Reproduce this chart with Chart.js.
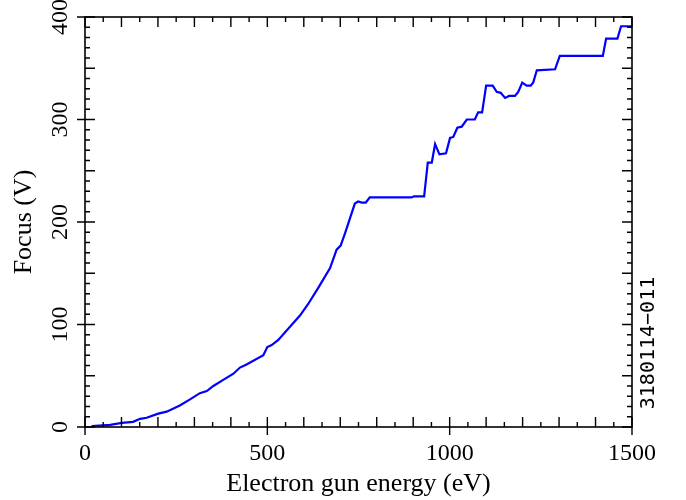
<!DOCTYPE html>
<html>
<head>
<meta charset="utf-8">
<script src="https://cdn.jsdelivr.net/npm/chart.js@4/dist/chart.umd.min.js"></script>
<style>
  html, body { margin: 0; padding: 0; background: #fff; }
  canvas { display: block; }
</style>
</head>
<body>
<canvas id="focusChart" width="686" height="500"></canvas>
<script>
// Focus voltage vs electron gun energy
const energy = [18, 69, 101, 132, 151, 169, 201, 224, 260, 288, 315, 334, 352, 379, 407, 425, 443,
    489, 500, 512, 530, 590, 612, 640, 672, 690, 701, 713, 727, 740, 749, 759, 770, 781, 896, 902,
    930, 940, 951, 960, 972, 990, 1001, 1010, 1021, 1033, 1047, 1069, 1078, 1089, 1100, 1118, 1129,
    1140, 1152, 1163, 1179, 1188, 1199, 1211, 1222, 1229, 1239, 1289, 1302, 1420, 1429, 1460, 1470, 1499];
const focus = [1, 2, 4, 5, 8, 9, 13, 15, 21, 27, 33, 35, 40, 46, 52, 58, 61,
    70, 78, 80, 85, 109, 120, 136, 155, 173, 177, 189, 204, 218, 220, 219, 219, 224, 224, 225,
    225, 258, 258, 276, 266, 267, 282, 283, 292, 293, 300, 300, 307, 307, 333, 333, 327,
    326, 321, 323, 323, 327, 336, 333, 333, 336, 348, 349, 362, 362, 379, 379, 391, 391];
const xTickValues = [0, 500, 1000, 1500];
const yTickValues = [0, 100, 200, 300, 400];
const figureCode = "3180114\u2212011";

const SERIF = "'Liberation Serif', 'Times New Roman', serif";

// frame, inward ticks on all four sides, rotated y labels and the figure code
const framePlugin = {
    id: "frame",
    afterDraw(chart) {
        const ctx = chart.ctx;
        const xs = chart.scales.x, ys = chart.scales.y;
        const a = chart.chartArea;
        ctx.save();
        ctx.strokeStyle = "#000";
        ctx.lineWidth = 1.6;
        ctx.strokeRect(a.left, a.top, a.right - a.left, a.bottom - a.top);

        ctx.lineWidth = 1.4;
        ctx.beginPath();
        for (let v = 0; v <= 1500; v += 50) {
            const px = xs.getPixelForValue(v);
            const len = v % 100 === 0 ? 10 : 5;
            const out = v % 500 === 0 ? 8 : 0;
            ctx.moveTo(px, a.bottom + out); ctx.lineTo(px, a.bottom - len);
            ctx.moveTo(px, a.top); ctx.lineTo(px, a.top + len);
        }
        for (let v = 0; v <= 400; v += 10) {
            const py = ys.getPixelForValue(v);
            const len = v % 50 === 0 ? 10 : 5;
            const out = v % 100 === 0 ? 8 : 0;
            ctx.moveTo(a.left - out, py); ctx.lineTo(a.left + len, py);
            ctx.moveTo(a.right, py); ctx.lineTo(a.right - len, py);
        }
        ctx.stroke();

        ctx.fillStyle = "#000";
        ctx.textAlign = "center";
        ctx.textBaseline = "alphabetic";
        ctx.font = "24px " + SERIF;
        yTickValues.forEach(v => {
            ctx.save();
            ctx.translate(67, ys.getPixelForValue(v));
            ctx.rotate(-Math.PI / 2);
            ctx.fillText(String(v), 0, 0);
            ctx.restore();
        });

        ctx.font = "26px " + SERIF;
        ctx.save();
        ctx.translate(31, (a.top + a.bottom) / 2);
        ctx.rotate(-Math.PI / 2);
        ctx.fillText("Focus (V)", 0, 0);
        ctx.restore();

        ctx.font = "20px 'DejaVu Sans Mono', monospace";
        ctx.save();
        ctx.translate(654, 343);
        ctx.rotate(-Math.PI / 2);
        ctx.fillText(figureCode, 0, 0);
        ctx.restore();
        ctx.restore();
    }
};

new Chart(document.getElementById("focusChart").getContext("2d"), {
    type: "line",
    data: {
        datasets: [{
            data: energy.map((e, i) => ({ x: e, y: focus[i] })),
            borderColor: "#0000ff",
            borderWidth: 2.2,
            pointRadius: 0,
            tension: 0,
            fill: false
        }]
    },
    options: {
        responsive: false,
        animation: false,
        devicePixelRatio: 1,
        layout: { padding: { top: 17, right: 54, left: 0, bottom: 0 } },
        plugins: { legend: { display: false }, tooltip: { enabled: false } },
        scales: {
            x: {
                type: "linear",
                min: 0,
                max: 1500,
                afterBuildTicks: s => { s.ticks = xTickValues.map(v => ({ value: v })); },
                afterFit: s => { s.height = 73; },
                grid: { display: false, drawTicks: false },
                border: { display: false },
                ticks: {
                    color: "#000",
                    padding: 12,
                    maxRotation: 0,
                    callback: v => String(v),
                    font: { family: SERIF, size: 24 }
                },
                title: {
                    display: true,
                    text: "Electron gun energy (eV)",
                    color: "#000",
                    padding: { top: 0, bottom: 0 },
                    font: { family: SERIF, size: 26 }
                }
            },
            y: {
                type: "linear",
                min: 0,
                max: 400,
                afterBuildTicks: s => { s.ticks = yTickValues.map(v => ({ value: v })); },
                afterFit: s => { s.width = 85; },
                grid: { display: false, drawTicks: false },
                border: { display: false },
                ticks: { display: false }
            }
        }
    },
    plugins: [framePlugin]
});
</script>
</body>
</html>
